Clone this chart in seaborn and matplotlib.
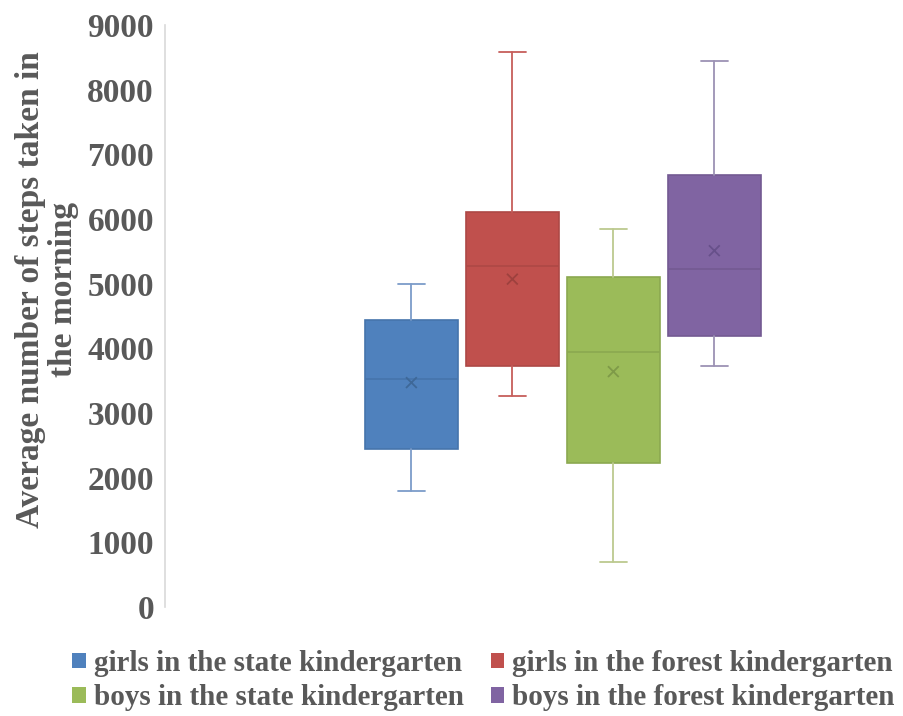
import matplotlib
matplotlib.use("Agg")
import matplotlib.pyplot as plt
from matplotlib.patches import Patch
import seaborn as sns
import pandas as pd

# box statistics (steps)
groups = ["girls in the state kindergarten", "girls in the forest kindergarten",
          "boys in the state kindergarten", "boys in the forest kindergarten"]
whislo = [1800, 3270, 690, 3720]
q1 = [2450, 3730, 2230, 4190]
med = [3520, 5270, 3940, 5230]
q3 = [4440, 6110, 5110, 6680]
whishi = [5000, 8590, 5850, 8440]
means = [3470, 5070, 3640, 5510]

fills = ["#4F81BD", "#C0504D", "#9BBB59", "#8064A2"]
edges = ["#4674AB", "#AD4845", "#8BA850", "#735A92"]
whisk = ["#7C9CC9", "#C65E5B", "#BCC98F", "#9C92B4"]
marks = ["#3E6898", "#9E413E", "#7E9A48", "#67508A"]

TXT = "#595959"
FONT = "Liberation Serif"


def main():
    sns.set_style("white")
    plt.rcParams["font.family"] = [FONT, "DejaVu Serif"]

    fig = plt.figure(figsize=(9.04, 7.16), dpi=100)
    ax = fig.add_axes([165 / 904, 109 / 716, (890 - 165) / 904, (607 - 25) / 716])

    pos = list(range(len(groups)))
    for i in pos:
        st = [dict(whislo=whislo[i], q1=q1[i], med=med[i], q3=q3[i],
                   whishi=whishi[i], mean=means[i], fliers=[])]
        ax.bxp(st, positions=[i], widths=0.92, patch_artist=True, showmeans=False,
               boxprops=dict(facecolor=fills[i], edgecolor=edges[i], linewidth=1.2),
               medianprops=dict(color=edges[i], linewidth=1.2),
               whiskerprops=dict(color=whisk[i], linewidth=1.3),
               capprops=dict(color=whisk[i], linewidth=1.3),
               capwidths=0.27)

    df = pd.DataFrame({"pos": pos, "mean": means, "group": groups})
    sns.scatterplot(data=df, x="pos", y="mean", hue="group", palette=marks,
                    marker="x", s=60, linewidth=1.3, legend=False, ax=ax, zorder=5)

    ax.set_xlim(-2.44, (890 - 411.3) / 101)
    ax.set_ylim(0, 9000)
    ax.set_yticks(range(0, 9001, 1000))
    ax.set_xticks([])
    ax.set_xlabel("")
    for s in ["top", "right", "bottom"]:
        ax.spines[s].set_visible(False)
    ax.spines["left"].set_color("#D9D9D9")
    ax.spines["left"].set_linewidth(1.2)
    ax.tick_params(axis="y", length=0, pad=8, labelsize=24, labelcolor=TXT)
    for t in ax.get_yticklabels():
        t.set_fontweight("bold")

    ax.set_ylabel("Average number of steps taken in\nthe morning", fontsize=24,
                  fontweight="bold", color=TXT, linespacing=1.12)
    ax.yaxis.set_label_coords(-0.118, 0.545)

    handles = [Patch(facecolor=fills[i], edgecolor="none") for i in [0, 2, 1, 3]]
    labels = [groups[i] for i in [0, 2, 1, 3]]
    fig.legend(handles, labels, ncol=2, loc="lower center", bbox_to_anchor=(0.535, -0.03),
               frameon=False, prop=dict(family=FONT, weight="bold", size=21),
               labelcolor=TXT, handlelength=0.45, handleheight=0.45, handletextpad=0.3,
               columnspacing=0.9, labelspacing=0.25)

    fig.savefig("out.png", dpi=100)


if __name__ == "__main__":
    main()
